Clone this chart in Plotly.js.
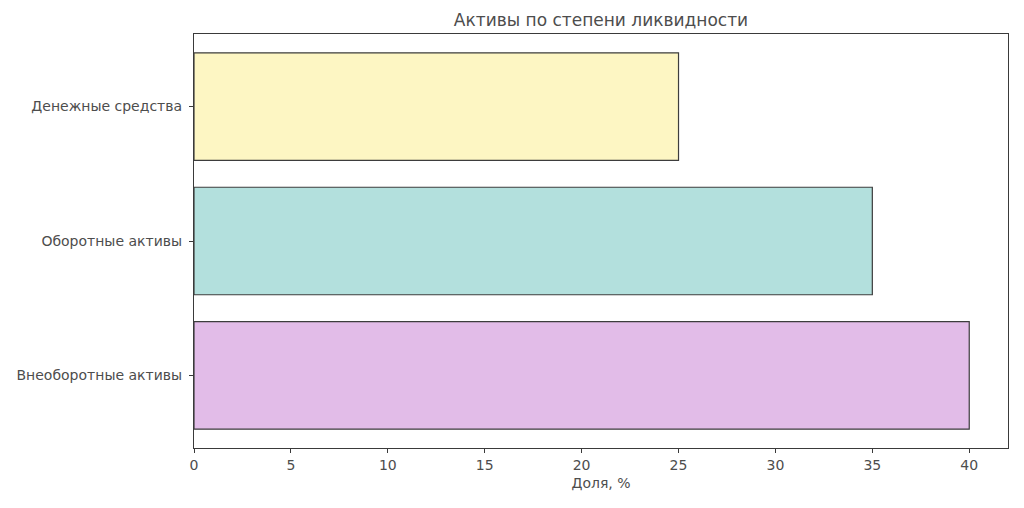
<!DOCTYPE html>
<html>
<head>
<meta charset="utf-8">
<script src="https://cdn.plot.ly/plotly-3.0.1.min.js"></script>
<style>
  html, body { margin: 0; padding: 0; background: #fff; }
  #chart { width: 1024px; height: 508px; }
</style>
</head>
<body>
<div id="chart"></div>
<script>
// Data (bottom to top, as drawn)
const categories = ['Внеоборотные активы', 'Оборотные активы', 'Денежные средства'];
const shares = [40, 35, 25];
const barColors = ['#e2bce8', '#b3e0dd', '#fdf6c3'];

const textColor = '#4d4d4d';
const frameColor = '#3a3a3a';

const trace = {
    type: 'bar',
    orientation: 'h',
    y: categories,
    x: shares,
    width: 0.8,
    marker: {
        color: barColors,
        line: { color: '#3d3d3d', width: 1.2 }
    },
    hoverinfo: 'x+y'
};

const layout = {
    width: 1024,
    height: 508,
    paper_bgcolor: '#ffffff',
    plot_bgcolor: '#ffffff',
    font: { family: 'DejaVu Sans', color: textColor, size: 14 },
    margin: { l: 194, r: 16, t: 34, b: 60 },
    showlegend: false,
    title: {
        text: 'Активы по степени ликвидности',
        font: { size: 17, color: textColor },
        xref: 'paper', x: 0.5, xanchor: 'center',
        yref: 'container', y: 0.96, yanchor: 'middle'
    },
    xaxis: {
        range: [0, 42],
        tickvals: [0, 5, 10, 15, 20, 25, 30, 35, 40],
        ticks: 'outside', ticklen: 4, tickwidth: 1, tickcolor: frameColor,
        showline: true, linecolor: frameColor, linewidth: 1.2, mirror: true,
        showgrid: false, zeroline: false,
        tickfont: { size: 14, color: textColor },
        title: { text: 'Доля, %', font: { size: 14, color: textColor }, standoff: 6 }
    },
    yaxis: {
        type: 'category',
        range: [-0.54, 2.54],
        ticks: 'outside', ticklen: 4, tickwidth: 1, tickcolor: frameColor,
        showline: true, linecolor: frameColor, linewidth: 1.2, mirror: true,
        showgrid: false, zeroline: false,
        tickfont: { size: 14, color: textColor },
        ticklabelstandoff: 4
    }
};

Plotly.newPlot('chart', [trace], layout, { displayModeBar: false, responsive: false });
</script>
</body>
</html>
